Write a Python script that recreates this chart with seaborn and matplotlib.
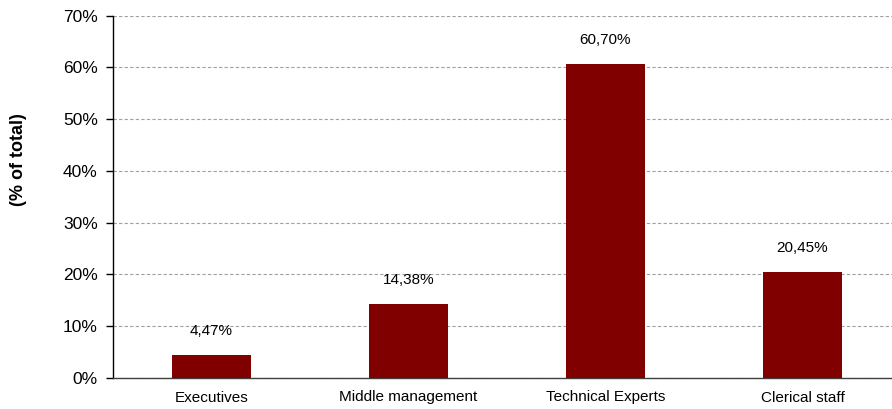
import matplotlib
matplotlib.use("Agg")
import matplotlib.pyplot as plt
import seaborn as sns
import pandas as pd
import numpy as np

categories = ["Executives", "Middle management", "Technical Experts", "Clerical staff"]
values = [4.47, 14.38, 60.70, 20.45]
y_ticks = [0, 10, 20, 30, 40, 50, 60, 70]
y_tick_labels = ["0%", "10%", "20%", "30%", "40%", "50%", "60%", "70%"]
y_label = "(% of total)"

sns.set_theme(style="white")
plt.rcParams['font.family'] = ['Liberation Sans', 'DejaVu Sans']

fig = plt.figure(figsize=(8.92, 4.09), dpi=100)
ax = fig.add_axes([113/892, 31/409, 788/892, 362.5/409])

df = pd.DataFrame({"category": categories, "value": values})
sns.barplot(data=df, x="category", y="value", color="#800000", saturation=1,
            width=0.4, ax=ax, zorder=3, edgecolor="none")

ax.set_xlim(-0.5, len(categories) - 0.5)
ax.set_ylim(0, 70)
ax.set_yticks(y_ticks)
ax.set_yticklabels(y_tick_labels, fontsize=12.5, color="black")
ax.yaxis.grid(True, linestyle=(0, (3, 2)), color="#a0a0a0", linewidth=0.8, zorder=0)
ax.xaxis.grid(False)

ax.set_xlabel("")
ax.set_ylabel(y_label, fontsize=13, fontweight="bold", color="black",
              family=["Liberation Sans", "DejaVu Sans"])
ax.yaxis.set_label_coords(-0.109, 0.602)

ax.tick_params(axis="x", which="major", length=0, labelsize=11, labelcolor="black", pad=9)
ax.set_xticks(np.arange(-0.5, len(categories), 1.0), minor=True)
ax.tick_params(axis="x", which="minor", length=5, width=1, color="#404040", direction="out")
ax.tick_params(axis="y", length=5, width=1, color="black", direction="out", left=True, pad=6)

for s in ["top", "right"]:
    ax.spines[s].set_visible(False)
ax.spines["left"].set_color("black")
ax.spines["left"].set_linewidth(1)
ax.spines["bottom"].set_color("#404040")
ax.spines["bottom"].set_linewidth(1)

for i, v in enumerate(values):
    ax.annotate(f"{v:.2f}%".replace(".", ","), xy=(i, v), xytext=(0, 12),
                textcoords="offset points", ha="center", va="bottom",
                fontsize=11, color="black")

fig.savefig("out.png", dpi=100)
